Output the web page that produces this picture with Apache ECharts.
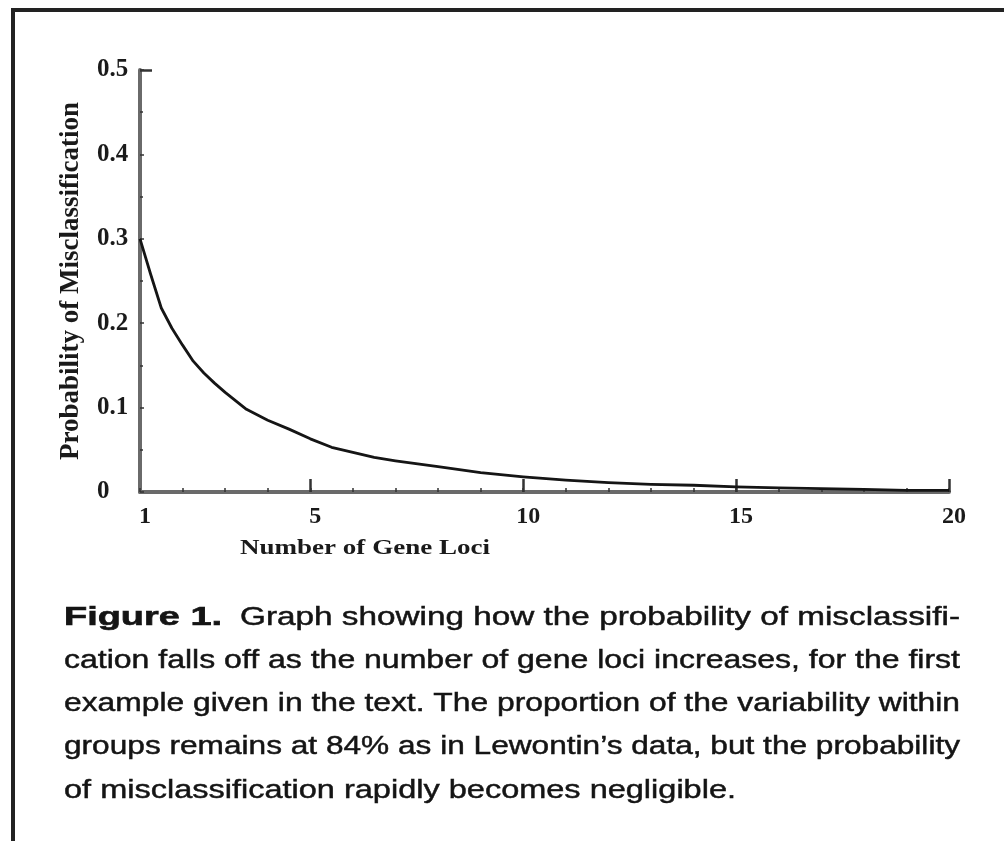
<!DOCTYPE html>
<html>
<head>
<meta charset="utf-8">
<script src="https://cdn.jsdelivr.net/npm/echarts@6/dist/echarts.min.js"></script>
<style>
html,body{margin:0;padding:0;background:#fff;}
#main{width:1004px;height:841px;}
</style>
</head>
<body>
<div id="main"></div>
<script>
// ---- data ----
const lociValues = [1, 1.25, 1.5, 1.75, 2, 2.25, 2.5, 2.75, 3, 3.5, 4, 4.5, 5, 5.5, 6, 6.5, 7, 8, 9, 10, 11, 12, 13, 14, 15, 16, 17, 18, 19, 20];
const probValues = [0.300, 0.258, 0.218, 0.194, 0.174, 0.155, 0.141, 0.129, 0.118, 0.098, 0.085, 0.0745, 0.063, 0.053, 0.047, 0.041, 0.037, 0.030, 0.023, 0.018, 0.014, 0.011, 0.009, 0.008, 0.006, 0.005, 0.004, 0.003, 0.002, 0.002];
const xTickLabels = [1, 5, 10, 15, 20];
const xMajorTicks = [5, 10, 15, 20];
const yTopTick = [0.5];
const xAxisTitle = 'Number of Gene Loci';
const yAxisTitle = 'Probability of Misclassification';
const captionBold = 'Figure 1.';
const captionLines = [
  'Graph showing how the probability of misclassifi-',
  'cation falls off as the number of gene loci increases, for the first',
  'example given in the text. The proportion of the variability within',
  'groups remains at 84% as in Lewontin\u2019s data, but the probability',
  'of misclassification rapidly becomes negligible.'
];

const seriesData = lociValues.map((x, i) => [x, probValues[i]]);

// text measurement for caption justification
const ctx = document.createElement('canvas').getContext('2d');
function measure(txt, font) { ctx.font = font; return ctx.measureText(txt).width; }
const capSize = 25;
const capFamily = '"Liberation Sans", Arial, sans-serif';
const capNormal = capSize + 'px ' + capFamily;
const capBoldF = 'bold ' + capSize + 'px ' + capFamily;
const capLeft = 64, capRight = 960, lastLineRight = 736, capTop = 618, capStep = 43.2;
const capCol = '#141414';

const graphics = [];
// frame
graphics.push({type:'line', shape:{x1:13, y1:10, x2:1004, y2:10}, style:{stroke:'#222', lineWidth:4}});
graphics.push({type:'line', shape:{x1:13, y1:8, x2:13, y2:841}, style:{stroke:'#222', lineWidth:4}});

// caption: bold figure label (wide)
graphics.push({
  type:'text', x:capLeft, y:capTop, scaleX:(222 - capLeft) / measure(captionBold, capBoldF),
  style:{text:captionBold, x:0, y:0, verticalAlign:'middle', align:'left', font:capBoldF,
    fill:capCol, stroke:capCol, lineWidth:0.6}
});
// caption lines (justified)
captionLines.forEach((line, i) => {
  const startX = i === 0 ? 240 : capLeft;
  const endX = i === captionLines.length - 1 ? lastLineRight : capRight;
  const s = (endX - startX) / measure(line, capNormal);
  graphics.push({
    type:'text', x:startX, y:capTop + i * capStep, scaleX:s,
    style:{text:line, x:0, y:0, verticalAlign:'middle', align:'left', font:capNormal,
      fill:capCol, stroke:capCol, lineWidth:0.45}
  });
});

// x axis title
const serif = '"Liberation Serif", "Times New Roman", serif';
const xtFont = 'bold 22px ' + serif;
const xtScale = 250 / measure(xAxisTitle, xtFont);
graphics.push({
  type:'text', x:240, y:548, scaleX:xtScale,
  style:{text:xAxisTitle, x:0, y:0, align:'left', verticalAlign:'middle', font:xtFont, fill:'#1a1a1a'}
});

const chart = echarts.init(document.getElementById('main'), null, {renderer:'canvas'});
const axisCol = '#6a6a6a';
chart.setOption({
  backgroundColor:'#ffffff',
  animation:false,
  grid:{left:140, right:55, top:70, bottom:349},
  xAxis:[{
    type:'value', min:1, max:20, interval:1,
    axisLine:{show:true, onZero:false, lineStyle:{color:axisCol, width:4}},
    axisTick:{show:true, inside:true, length:4, lineStyle:{color:'#333', width:1.5}},
    axisLabel:{show:true, customValues:xTickLabels, margin:13, color:'#1a1a1a',
      fontFamily:serif, fontWeight:'bold', fontSize:24, padding:[0,0,0,10]},
    splitLine:{show:false}
  },{
    type:'value', min:1, max:20, position:'bottom', gridIndex:0,
    axisLine:{show:false},
    axisTick:{show:true, inside:true, length:13, customValues:xMajorTicks, lineStyle:{color:'#333', width:2.5}},
    axisLabel:{show:false},
    splitLine:{show:false}
  }],
  yAxis:[{
    type:'value', min:0, max:0.5, interval:0.1,
    name:yAxisTitle, nameLocation:'middle', nameGap:55,
    nameTextStyle:{fontFamily:serif, fontWeight:'bold', fontSize:27, color:'#1a1a1a'},
    axisLine:{show:true, onZero:false, lineStyle:{color:axisCol, width:4}},
    axisTick:{show:true, inside:true, length:4, lineStyle:{color:'#333', width:1.5}},
    minorTick:{show:true, splitNumber:2, length:3, lineStyle:{color:'#333', width:1.5}},
    axisLabel:{show:true, margin:43, align:'left', color:'#1a1a1a',
      fontFamily:serif, fontWeight:'bold', fontSize:25},
    splitLine:{show:false}
  },{
    type:'value', min:0, max:0.5, position:'left',
    axisLine:{show:false},
    axisTick:{show:true, inside:true, length:12, customValues:yTopTick, lineStyle:{color:'#333', width:2.5}},
    axisLabel:{show:false},
    splitLine:{show:false}
  }],
  series:[{
    type:'line', data:seriesData, xAxisIndex:0, yAxisIndex:0,
    showSymbol:false, smooth:false,
    lineStyle:{color:'#151515', width:2.8, join:'round'}
  }],
  graphic:graphics
});
</script>
</body>
</html>
